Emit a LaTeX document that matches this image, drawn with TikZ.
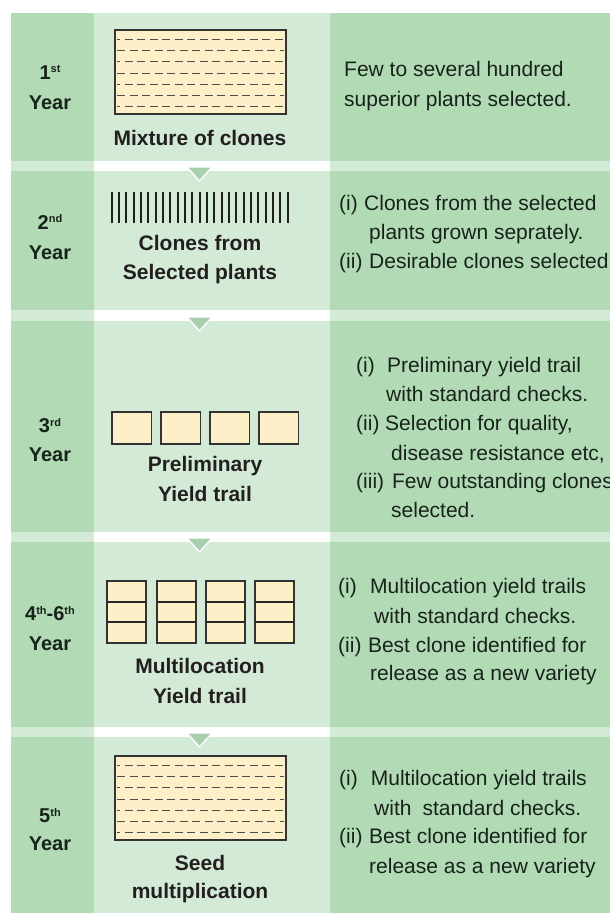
\documentclass[tikz,border=0pt]{standalone}
\usepackage{fontspec}
\setmainfont{Liberation Sans}
\definecolor{midgreen}{HTML}{B2DBB5}
\definecolor{lightgreen}{HTML}{D3EBD6}
\definecolor{trigreen}{HTML}{A8D0AF}
\definecolor{cream}{HTML}{FDF0C8}
\definecolor{ink}{HTML}{17231A}
\definecolor{labelink}{HTML}{231F20}
\newcommand\supx[1]{\raisebox{6.5pt}{\fontsize{11}{11}\selectfont #1}}
\begin{document}
\begin{tikzpicture}[x=1pt,y=-1pt,
  yearlbl/.style={anchor=base, font=\fontsize{20}{24}\selectfont\bfseries, text=ink, inner sep=0pt},
  midlbl/.style={anchor=base, font=\fontsize{21}{25}\selectfont\bfseries, text=labelink, inner sep=0pt},
  desc/.style={anchor=base west, font=\fontsize{21}{25}\selectfont, text=ink, inner sep=0pt},
  plot/.style={draw=black!80, line width=1.1pt, fill=cream},
  dashline/.style={draw=black!70, line width=1.4pt, dash pattern=on 8pt off 4.5pt},
  stepmark/.style={fill=trigreen, draw=white, line width=1.3pt, line join=miter}]
\useasboundingbox (0,0) rectangle (610,914);
\fill[white] (0,0) rectangle (610,914);
% rows
\foreach \a/\b in {13/161, 171/310, 321/532, 542/727, 737/913}{
  \fill[midgreen] (11,\a) rectangle (94,\b);
  \fill[lightgreen] (94,\a) rectangle (330,\b);
  \fill[midgreen] (330,\a) rectangle (610,\b);
}
% separators
\foreach \a/\b in {161/171, 310/321, 532/542, 727/737}{
  \fill[lightgreen] (11,\a) rectangle (94,\b);
  \fill[lightgreen] (330,\a) rectangle (610,\b);
}
% step triangles
\foreach \t in {167, 317, 538, 733}{
  \draw[stepmark] (187,\t) -- (212,\t) -- (199.5,\t+14) -- cycle;
}
% Row 1
\node[yearlbl] (y1a) at (50,79) {1\supx{st}};
\node[yearlbl] (y1b) at (50,109) {Year};
\draw[plot] (115,30) rectangle (286,114);
\foreach \k/\yy in {0/39.5,1/50.5,2/61.5,3/73.5,4/84.5,5/95.5,6/106.5}{
  \pgfmathsetmacro{\ph}{mod(\k,2)==0 ? 5 : 0}
  \begin{scope}
    \clip (116,30) rectangle (285,114);
    \draw[dashline, dash phase=\ph pt] (117,\yy) -- (284,\yy);
  \end{scope}
}
\node[midlbl] (m1) at (200,145) {Mixture of clones};
\node[desc] (d1a) at (344,76) {Few to several hundred};
\node[desc] (d1b) at (344,106) {superior plants selected.};
% Row 2
\node[yearlbl] (y2a) at (50,229) {2\supx{nd}};
\node[yearlbl] (y2b) at (50,259) {Year};
\foreach \i in {0,...,24}{
  \draw[line width=2pt, black!88] ({111.7+\i*7.333},192) -- ({111.7+\i*7.333},223);
}
\node[midlbl] (m2a) at (200,250) {Clones from};
\node[midlbl] (m2b) at (200,279) {Selected plants};
\node[desc] (d2a) at (339,210) {(i)\hspace{6.4pt}Clones from the selected};
\node[desc] (d2b) at (369,239) {plants grown seprately.};
\node[desc] (d2c) at (339,268) {(ii)\hspace{6.7pt}Desirable clones selected};
% Row 3
\node[yearlbl] (y3a) at (50,432.7) {3\supx{rd}};
\node[yearlbl] (y3b) at (50,461) {Year};
\foreach \x in {112,161,210,259}{
  \draw[plot] (\x,412) rectangle (\x+39.5,444);
}
\node[midlbl] (m3a) at (205,471.7) {Preliminary};
\node[midlbl] (m3b) at (205,501) {Yield trail};
\node[desc] (d3a) at (356,372.7) {(i)\hspace{12.4pt}Preliminary yield trail};
\node[desc] (d3b) at (386,401) {with standard checks.};
\node[desc] (d3c) at (356,430) {(ii)\hspace{5.7pt}Selection for quality,};
\node[desc] (d3d) at (391,460) {disease resistance etc,};
\node[desc] (d3e) at (356,488) {(iii)\hspace{8pt}Few outstanding clones};
\node[desc] (d3f) at (391,517) {selected.};
% Row 4
\node[yearlbl] (y4a) at (50,620.7) {4\supx{th}-6\supx{th}};
\node[yearlbl] (y4b) at (50,650.7) {Year};
\foreach \x in {107,157,206,255}{
  \draw[plot] (\x,581) rectangle (\x+39,643);
  \draw[draw=black!85, line width=1.8pt] (\x,601.7) -- (\x+39,601.7);
  \draw[draw=black!85, line width=1.8pt] (\x,622.3) -- (\x+39,622.3);
}
\node[midlbl] (m4a) at (200,673) {Multilocation};
\node[midlbl] (m4b) at (200,703) {Yield trail};
\node[desc] (d4a) at (338,593) {(i)\hspace{13.4pt}Multilocation yield trails};
\node[desc] (d4b) at (374,623) {with standard checks.};
\node[desc] (d4c) at (338,652) {(ii)\hspace{6.5pt}Best clone identified for};
\node[desc] (d4d) at (370,680) {release as a new variety};
% Row 5
\node[yearlbl] (y5a) at (50,822.7) {5\supx{th}};
\node[yearlbl] (y5b) at (50,850.7) {Year};
\draw[plot] (115,756) rectangle (286,840);
\foreach \k/\yy in {0/765.5,1/776.5,2/787.5,3/799.5,4/810.5,5/821.5,6/832.5}{
  \pgfmathsetmacro{\ph}{mod(\k,2)==0 ? 5 : 0}
  \begin{scope}
    \clip (116,756) rectangle (285,840);
    \draw[dashline, dash phase=\ph pt] (117,\yy) -- (284,\yy);
  \end{scope}
}
\node[midlbl] (m5a) at (200,870) {Seed};
\node[midlbl] (m5b) at (200,898) {multiplication};
\node[desc] (d5a) at (339,785.7) {(i)\hspace{13pt}Multilocation yield trails};
\node[desc] (d5b) at (374,815) {with\hspace{11pt}standard checks.};
\node[desc] (d5c) at (339,843) {(ii)\hspace{6.5pt}Best clone identified for};
\node[desc] (d5d) at (369,873) {release as a new variety};
\end{tikzpicture}
\end{document}
